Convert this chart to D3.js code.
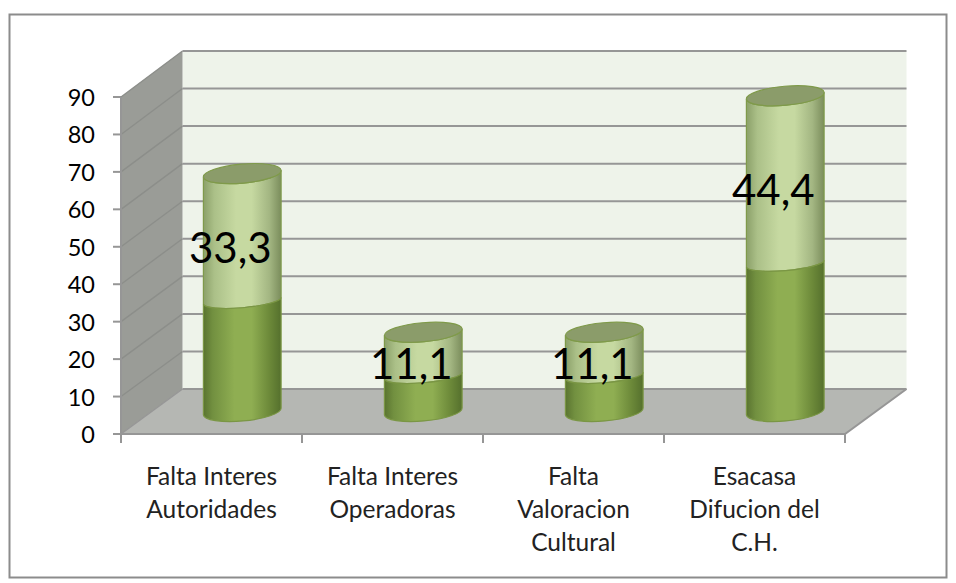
<!DOCTYPE html>
<html><head><meta charset="utf-8">
<script src="https://cdnjs.cloudflare.com/ajax/libs/d3/7.8.5/d3.min.js"></script>
<style>html,body{margin:0;padding:0;background:#fff}svg{display:block}text{font-family:Lato,"Open Sans",sans-serif}</style>
</head><body><script>
const categories=[["Falta Interes","Autoridades"],["Falta Interes","Operadoras"],["Falta","Valoracion","Cultural"],["Esacasa","Difucion del","C.H."]];
const lowerValues=[31,10,10,41.4];
const upperValues=[35.6,12.2,12.2,47];
const labelValues=[33.3,11.1,11.1,44.4];
const labelTexts=["33,3","11,1","11,1","44,4"];
const ticks=[0,10,20,30,40,50,60,70,80,90];
const W=956,H=583;
const svg=d3.select("body").append("svg").attr("width",W).attr("height",H);
const defs=svg.append("defs");
function grad(id,stops){const g=defs.append("linearGradient").attr("id",id);
 stops.forEach(s=>g.append("stop").attr("offset",s[0]).attr("stop-color",s[1]));}
grad("dark",[[0,"#5a7430"],[.12,"#729040"],[.4,"#8fae52"],[.62,"#8fae52"],[.85,"#6c8939"],[1,"#55702d"]]);
grad("light",[[0,"#8ba069"],[.14,"#abc088"],[.42,"#c6d9a1"],[.62,"#c6d9a1"],[.85,"#a3b682"],[1,"#7b8d5c"]]);
svg.append("rect").attr("x",9.5).attr("y",14.5).attr("width",937).attr("height",563).attr("fill","#fff").attr("stroke","#8c8c8c").attr("stroke-width",2);
const x=d3.scaleBand().domain(d3.range(categories.length)).range([121,845]);
const yFront=d3.scaleLinear().domain([0,90]).range([434,97]);
const yBack=d3.scaleLinear().domain([0,90]).range([389,51]);
const yMid=d3.scaleLinear().domain([0,90]).range([411.5,90]);
const yLabel=d3.scaleLinear().domain([0,90]).range([437,124]);
const dx=61.5;
const gridC="#969696";
const x0=x.range()[0],x1=x.range()[1];
svg.append("rect").attr("x",x0+dx).attr("y",yBack(90)).attr("width",x1-x0).attr("height",yBack(0)-yBack(90)).attr("fill","#eef3ea");
svg.append("path").attr("d",d3.line()([[x0,yFront(0)],[x0,yFront(90)],[x0+dx,yBack(90)],[x0+dx,yBack(0)]])+"Z").attr("fill","#9a9c97");
svg.append("path").attr("d",d3.line()([[x0,yFront(0)],[x1,yFront(0)],[x1+dx,yBack(0)],[x0+dx,yBack(0)]])+"Z").attr("fill","#b5b7b3");
ticks.forEach(t=>{
 svg.append("path").attr("fill","none").attr("stroke",t==0?"#969696":"#8c8e8a").attr("stroke-width",1.4)
  .attr("d",d3.line()([[x0,yFront(t)],[x0+dx,yBack(t)]]));
 svg.append("path").attr("fill","none").attr("stroke",gridC).attr("stroke-width",2)
  .attr("d",d3.line()([[x0+dx,yBack(t)],[x1+dx,yBack(t)]]));
});
svg.append("path").attr("fill","none").attr("stroke",gridC).attr("stroke-width",2)
 .attr("d",d3.line()([[x0,yFront(0)],[x1,yFront(0)],[x1+dx,yBack(0)]]));
svg.append("path").attr("stroke",gridC).attr("stroke-width",2).attr("fill","none").attr("d",d3.line()([[x0,yFront(0)],[x0,yFront(90)]]));
ticks.forEach(t=>{
 svg.append("line").attr("x1",x0-8).attr("x2",x0).attr("y1",yFront(t)).attr("y2",yFront(t)).attr("stroke",gridC).attr("stroke-width",2);
 svg.append("text").attr("x",x0-26).attr("y",yFront(t)+9).attr("text-anchor","end").attr("font-size",23.5).attr("fill","#000").text(t);
});
d3.range(categories.length+1).forEach(i=>{
 const px=i<categories.length?x(i):x1;
 svg.append("line").attr("x1",px).attr("x2",px).attr("y1",yFront(0)).attr("y2",yFront(0)+9).attr("stroke",gridC).attr("stroke-width",2);
});
const rx=39,tilt=-5;
function cyl(cx,yb,yt,fill,edge,ryBottom,ryTop){
 const t=tilt*Math.PI/180,sx=rx*Math.cos(t),sy=rx*Math.sin(t);
 const d=`M${cx-sx},${yt-sy}L${cx-sx},${yb-sy}A${rx},${ryBottom} ${tilt} 0 0 ${cx+sx},${yb+sy}L${cx+sx},${yt+sy}A${rx},${ryTop} ${tilt} 0 1 ${cx-sx},${yt-sy}Z`;
 svg.append("path").attr("d",d).attr("fill",`url(#${fill})`).attr("stroke",edge).attr("stroke-width",1.2);
}
categories.forEach((c,i)=>{
 const cx=x(i)+x.bandwidth()/2+dx/2;
 const a=lowerValues[i],b=upperValues[i];
 cyl(cx,yMid(a),yMid(a+b),"light","#7f9a4a",7,9.5);
 cyl(cx,yMid(0),yMid(a),"dark","#7a9644",9.5,7);
 svg.append("ellipse").attr("cx",cx).attr("cy",yMid(a+b)).attr("rx",rx).attr("ry",9.5).attr("transform",`rotate(${tilt} ${cx} ${yMid(a+b)})`).attr("fill","#8b9c6a").attr("stroke","#7f9a4a").attr("stroke-width",1.2);
 svg.append("text").attr("x",cx-12).attr("y",yLabel(labelValues[i]*1.5)).attr("text-anchor","middle").attr("font-size",42).attr("fill","#000").text(labelTexts[i]);
 const g=svg.append("text").attr("text-anchor","middle").attr("font-size",24.5).attr("fill","#222");
 c.forEach((l,j)=>g.append("tspan").attr("x",x(i)+x.bandwidth()/2).attr("y",485+j*33).text(l));
});
</script></body></html>
